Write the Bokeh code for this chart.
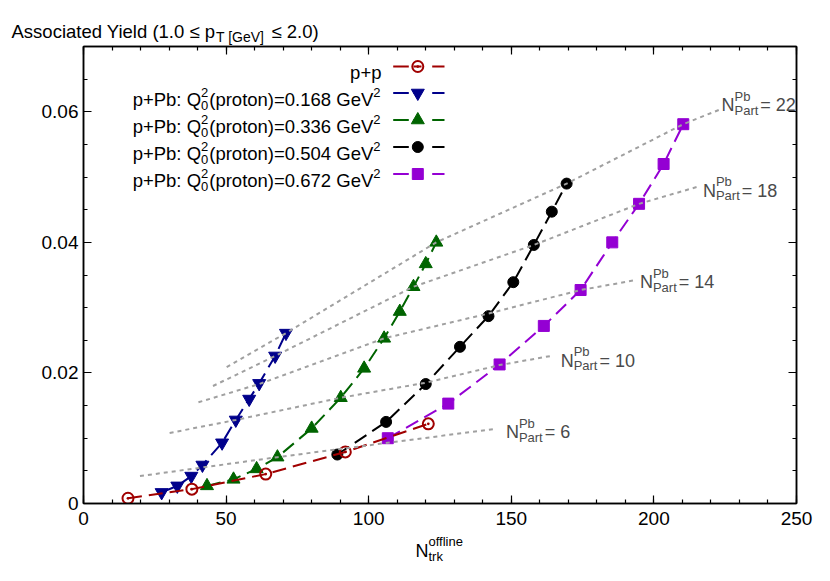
from bokeh.plotting import figure
from bokeh.models import (FixedTicker, LinearAxis, Range1d, Label, PrintfTickFormatter,
                          CustomJSTickFormatter)
from bokeh.embed import file_html
from bokeh.resources import INLINE

FONT = "Liberation Sans"

# ---------------- data ----------------
pp_x = [15.6, 38.0, 63.9, 91.8, 120.9]
pp_y = [0.0008, 0.0022, 0.0045, 0.0079, 0.0122]

q168_x = [27.4, 32.9, 37.8, 41.7, 48.6, 53.4, 58.1, 61.6, 67.2, 71.0]
q168_y = [0.0017, 0.0027, 0.0042, 0.0059, 0.0093, 0.0128, 0.0160, 0.0184, 0.0226, 0.0261]

q336_x = [43.3, 52.6, 60.7, 68.0, 80.0, 90.2, 98.4, 105.4, 110.9, 115.7, 120.0, 123.7]
q336_y = [0.0027, 0.0037, 0.0053, 0.0071, 0.0115, 0.0162, 0.0207, 0.0253, 0.0294, 0.0332, 0.0367, 0.0400]

q504_x = [89.0, 106.1, 120.0, 132.0, 142.0, 150.7, 157.9, 164.2, 169.4]
q504_y = [0.0075, 0.0125, 0.0183, 0.0240, 0.0287, 0.0339, 0.0396, 0.0447, 0.0490]

q672_x = [106.7, 127.9, 145.9, 161.4, 174.3, 185.4, 194.8, 203.4, 210.3]
q672_y = [0.0100, 0.0153, 0.0213, 0.0272, 0.0327, 0.0400, 0.0459, 0.0520, 0.0581]

# constant N_part^Pb curves (grey dotted)
npart_names = ["22", "18", "14", "10", "6"]
np22_x = [50.2, 71.0, 123.7, 169.4, 210.3, 224.0]
np22_y = [0.0209, 0.0261, 0.0400, 0.0490, 0.0581, 0.0605]
np18_x = [45.4, 67.2, 115.7, 157.9, 194.8, 215.2]
np18_y = [0.0180, 0.0226, 0.0332, 0.0396, 0.0459, 0.0485]
np14_x = [40.3, 61.6, 105.4, 142.0, 174.3, 193.4]
np14_y = [0.0155, 0.0183, 0.0253, 0.0291, 0.0327, 0.0342]
np10_x = [30.2, 53.4, 90.2, 120.0, 145.9, 163.9]
np10_y = [0.0108, 0.0128, 0.0162, 0.0185, 0.0212, 0.0226]
np6_x = [19.8, 68.0, 143.8]
np6_y = [0.0042, 0.0071, 0.0114]

x_ticks = [0, 50, 100, 150, 200, 250]
x_minor = [0, 10, 20, 30, 40, 50, 60, 70, 80, 90, 100, 110, 120, 130, 140, 150,
           160, 170, 180, 190, 200, 210, 220, 230, 240, 250]
y_ticks = [0, 0.02, 0.04, 0.06]
y_minor = [0, 0.005, 0.01, 0.015, 0.02, 0.025, 0.03, 0.035, 0.04, 0.045, 0.05,
           0.055, 0.06, 0.065, 0.07]

series_labels = ["0.168", "0.336", "0.504", "0.672"]

# ---------------- layout (figure drawn at the page's top-left corner) ----------------
W, H = 822, 580
BL, BR, BT, BB = 83, 26, 46, 77
FW = W - BL - BR
FH = H - BT - BB
XR = (0, 250)
YR = (0, 0.07)
SX = FW / (XR[1] - XR[0])      # px per x unit
SY = FH / (YR[1] - YR[0])      # px per y unit


def dx(px):
    return XR[0] + (px - BL) / SX


def dy(py):
    return YR[0] + (BT + FH - py) / SY


AW = {' ': 278, '\u00a0': 278, '(': 333, ')': 333, '+': 584, '.': 278, ':': 278,
      '=': 584, '[': 278, ']': 278, '\u2264': 549, 'A': 667, 'G': 778, 'N': 722,
      'P': 667, 'Q': 778, 'T': 611, 'V': 667, 'Y': 667, 'a': 556, 'b': 556,
      'c': 500, 'd': 556, 'e': 556, 'f': 278, 'i': 222, 'k': 500, 'l': 222,
      'n': 556, 'o': 556, 'p': 556, 'r': 333, 's': 500, 't': 278}


def tw(s, size):
    return sum(AW.get(c, 556) for c in s) * size / 1000.0


p = figure(width=W, height=H, x_range=Range1d(*XR), y_range=Range1d(*YR),
           output_backend="svg", toolbar_location=None,
           min_border_left=BL, min_border_right=BR, min_border_top=BT,
           min_border_bottom=BB)
p.xgrid.visible = False
p.ygrid.visible = False
p.outline_line_color = "black"
p.outline_line_width = 1.5
p.background_fill_color = "white"
p.border_fill_color = "white"


def style_axis(ax, standoff):
    ax.major_tick_in = 8
    ax.major_tick_out = 0
    ax.minor_tick_in = 4
    ax.minor_tick_out = 0
    ax.axis_line_width = 1.5
    ax.axis_line_color = "black"
    ax.major_tick_line_width = 1.2
    ax.minor_tick_line_width = 1.2
    ax.major_tick_line_color = "black"
    ax.minor_tick_line_color = "black"
    ax.major_label_text_font = FONT
    ax.major_label_text_color = "black"
    ax.major_label_standoff = standoff
    ax.major_label_text_font_size = "19px"


p.xaxis[0].ticker = FixedTicker(ticks=x_ticks, minor_ticks=x_minor)
p.yaxis[0].ticker = FixedTicker(ticks=y_ticks, minor_ticks=y_minor)
p.yaxis[0].formatter = PrintfTickFormatter(format="%g")
style_axis(p.xaxis[0], 8)
style_axis(p.yaxis[0], 5)

blank = CustomJSTickFormatter(code="return ''")
ax_top = LinearAxis(ticker=FixedTicker(ticks=x_ticks, minor_ticks=x_minor), formatter=blank)
ax_right = LinearAxis(ticker=FixedTicker(ticks=y_ticks, minor_ticks=y_minor), formatter=blank)
style_axis(ax_top, 0)
style_axis(ax_right, 0)
p.add_layout(ax_top, "above")
p.add_layout(ax_right, "right")

# ---------------- series ----------------
DASH = "14 7"
RED, BLUE, GREEN, BLACK, VIOLET = "#a00000", "#00008b", "#006400", "#000000", "#9400d3"

p.line(q168_x, q168_y, line_color=BLUE, line_width=2, line_dash=DASH)
p.scatter(q168_x, q168_y, marker="inverted_triangle", size=13, fill_color=BLUE, line_color=BLUE)
p.line(q336_x, q336_y, line_color=GREEN, line_width=2, line_dash=DASH)
p.scatter(q336_x, q336_y, marker="triangle", size=13, fill_color=GREEN, line_color=GREEN)
p.line(q504_x, q504_y, line_color=BLACK, line_width=2, line_dash=DASH)
p.scatter(q504_x, q504_y, marker="circle", size=11, fill_color=BLACK, line_color=BLACK)
p.line(q672_x, q672_y, line_color=VIOLET, line_width=2, line_dash=DASH)
p.scatter(q672_x, q672_y, marker="square", size=11, fill_color=VIOLET, line_color=VIOLET)
p.line(pp_x, pp_y, line_color=RED, line_width=2, line_dash=DASH)
p.scatter(pp_x, pp_y, marker="circle_dot", size=11, fill_color=None, line_color=RED, line_width=2)

GREY = "#a0a0a0"
for gx, gy in [(np22_x, np22_y), (np18_x, np18_y), (np14_x, np14_y),
               (np10_x, np10_y), (np6_x, np6_y)]:
    p.line(gx, gy, line_color=GREY, line_width=2, line_dash="4 4")


# ---------------- text helpers ----------------
def put(x, y, s, size, color, mode, place=None):
    lab = Label(x=x, y=y, x_units=mode, y_units=mode, text=s, text_font=FONT,
                text_font_size=f"{size}px", text_color=color,
                text_align="left", text_baseline="alphabetic")
    if place is None:
        p.add_layout(lab)
    else:
        p.add_layout(lab, place)


def rich(x, y, pieces, color="black", main=18, small=13, align="left",
         sup_up=8.0, sub_dn=6.0, gap=1.5, mode="data", place=None):
    widths = []
    for pc in pieces:
        kind = pc[0]
        if kind == "n":
            widths.append(tw(pc[1], main))
        elif kind in ("sup", "sub"):
            widths.append(tw(pc[1], small) + gap)
        else:  # subsup
            widths.append(max(tw(pc[1], small), tw(pc[2], small)) + gap)
    total = sum(widths)
    off = 0.0 if align == "left" else -total
    if mode == "data":
        fx, fy = 1.0 / SX, 1.0 / SY
    else:
        fx, fy = 1.0, -1.0
    for pc, w in zip(pieces, widths):
        kind = pc[0]
        xx = x + off * fx
        if kind == "n":
            put(xx, y, pc[1], main, color, mode, place)
        elif kind == "sup":
            put(xx, y + sup_up * fy, pc[1], small, color, mode, place)
        elif kind == "sub":
            put(xx, y - sub_dn * fy, pc[1], small, color, mode, place)
        else:
            put(xx, y - sub_dn * fy, pc[1], small, color, mode, place)
            put(xx, y + sup_up * fy, pc[2], small, color, mode, place)
        off += w


# ---- title (top panel; canvas px, y downwards) ----
T_MAIN, T_SUB = 18.5, 14
head = "Associated Yield (1.0 \u2264 p"
sub = "T [GeV]"
tail = " \u2264 2.0)"
n_pad = int(round((tw(sub, T_SUB) + 2) / tw("\u00a0", T_MAIN)))
put(11, 31, head + "\u00a0" * n_pad + tail, T_MAIN, "black", "canvas", "above")
put(11 + tw(head, T_MAIN), 36, sub, T_SUB, "black", "canvas", "above")

# ---- x axis label (bottom panel) ----
rich(415, 550, [("n", "N"), ("subsup", "trk", "offline")], sub_dn=6, sup_up=9,
     mode="canvas", place="below")

# ---- N_part labels ----
lab_x = [223.7, 217.2, 195.1, 167.3, 148.1]
lab_y = [0.0610, 0.0479, 0.0339, 0.0219, 0.0109]
for nm, lx, ly in zip(npart_names, lab_x, lab_y):
    rich(lx, ly, [("n", "N"), ("subsup", "Part", "Pb"), ("n", "= " + nm)],
         color="#4a4a4a", sub_dn=5, sup_up=9, gap=2)

# ---------------- legend ----------------
leg_base = [72, 98.5, 125.5, 152.5, 179.5]   # canvas px baselines
leg_right = 381
put_right = dx(leg_right)
p.add_layout(Label(x=put_right, y=dy(leg_base[0]), text="p+p", text_font=FONT,
                   text_font_size="18.5px", text_color="black", text_align="right",
                   text_baseline="alphabetic"))
for lbl, b in zip(series_labels, leg_base[1:]):
    rich(put_right, dy(b), [("n", "p+Pb: Q"), ("subsup", "0", "2"),
                            ("n", "(proton)=" + lbl + " GeV"), ("sup", "2")],
         main=18.5, align="right", sup_up=7, sub_dn=6, gap=1)

leg_styles = [("circle_dot", RED, 11, None), ("inverted_triangle", BLUE, 13, BLUE),
              ("triangle", GREEN, 13, GREEN), ("circle", BLACK, 11, BLACK),
              ("square", VIOLET, 11, VIOLET)]
for (mk, col, sz, fc), b in zip(leg_styles, leg_base):
    yy = dy(b - 6)
    for a, bb in [(392.7, 408.3), (413, 421), (431.7, 444)]:
        p.line([dx(a), dx(bb)], [yy, yy], line_color=col, line_width=2)
    p.scatter([dx(417.3)], [yy], marker=mk, size=sz, fill_color=fc, line_color=col,
              line_width=2 if fc is None else 1)

open("out.html", "w").write(file_html(p, INLINE))
